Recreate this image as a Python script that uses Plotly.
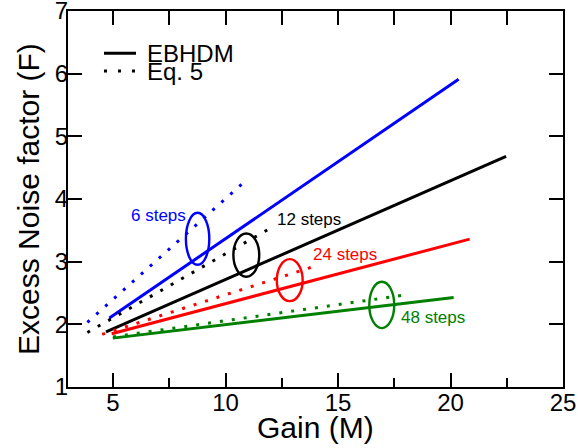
import plotly.graph_objects as go

# ---- data ----
series_names = ["6 steps", "12 steps", "24 steps", "48 steps"]
series_colors = ["#0000ff", "#000000", "#ff0000", "#008000"]

# EBHDM (solid lines): gain endpoints and excess noise factor endpoints
ebhdm_gain = [[4.84, 20.36], [4.69, 22.47], [4.94, 20.85], [4.99, 20.14]]
ebhdm_F = [[2.10, 5.91], [1.88, 4.68], [1.85, 3.36], [1.78, 2.43]]

# Eq. 5 (dotted lines)
eq5_gain = [[3.86, 10.79], [3.86, 11.93], [4.52, 13.90], [5.00, 18.20]]
eq5_F = [[2.03, 4.26], [1.87, 3.52], [1.84, 2.92], [1.80, 2.48]]

# ellipses marking each pair (data coordinates: gain range, F range)
ellipse_gain = [[8.24, 9.28], [10.35, 11.50], [12.28, 13.43], [16.39, 17.50]]
ellipse_F = [[2.95, 3.78], [2.76, 3.45], [2.37, 3.04], [1.94, 2.68]]

# label positions (data coordinates)
label_gain = [7.04, 13.73, 15.31, 19.22]
label_F = [3.74, 3.68, 3.12, 2.11]

x_range = [3, 25]
y_range = [1, 7]

FONT = "Liberation Sans, Arial, Helvetica, sans-serif"

fig = go.Figure()

for i, name in enumerate(series_names):
    c = series_colors[i]
    fig.add_trace(go.Scatter(
        x=eq5_gain[i], y=eq5_F[i], mode="lines",
        line=dict(color=c, width=3, dash="3px,9px"),
        showlegend=False, hoverinfo="skip"))
    fig.add_trace(go.Scatter(
        x=ebhdm_gain[i], y=ebhdm_F[i], mode="lines",
        line=dict(color=c, width=3),
        showlegend=False, hoverinfo="skip"))
    fig.add_shape(type="circle", xref="x", yref="y",
                  x0=ellipse_gain[i][0], x1=ellipse_gain[i][1],
                  y0=ellipse_F[i][0], y1=ellipse_F[i][1],
                  line=dict(color=c, width=2.4))
    fig.add_annotation(x=label_gain[i], y=label_F[i], text=name,
                       showarrow=False, xref="x", yref="y",
                       font=dict(family=FONT, size=17, color=c))

# manual legend (paper coordinates)
fig.add_shape(type="line", xref="paper", yref="paper",
              x0=0.0727, x1=0.1374, y0=0.8875, y1=0.8875,
              line=dict(color="black", width=3))
fig.add_shape(type="line", xref="paper", yref="paper",
              x0=0.0727, x1=0.1374, y0=0.8404, y1=0.8404,
              line=dict(color="black", width=3, dash="3px,11px"))
fig.add_annotation(x=0.1556, y=0.8875, xref="paper", yref="paper",
                   text="EBHDM", showarrow=False, xanchor="left", yanchor="middle",
                   font=dict(family=FONT, size=24, color="black"))
fig.add_annotation(x=0.1556, y=0.8404, xref="paper", yref="paper",
                   text="Eq. 5", showarrow=False, xanchor="left", yanchor="middle",
                   font=dict(family=FONT, size=24, color="black"))

# axis titles as annotations (to keep the plot area fixed)
fig.add_annotation(x=0.5, y=-0.107, xref="paper", yref="paper",
                   text="Gain (M)", showarrow=False, xanchor="center", yanchor="middle",
                   font=dict(family=FONT, size=30, color="black"))
fig.add_annotation(x=-0.081, y=0.5, xref="paper", yref="paper", textangle=-90,
                   text="Excess Noise factor (F)", showarrow=False,
                   xanchor="center", yanchor="middle",
                   font=dict(family=FONT, size=30, color="black"))

fig.update_layout(
    width=578, height=448,
    margin=dict(l=68, r=15, t=11, b=61, autoexpand=False),
    paper_bgcolor="white", plot_bgcolor="white",
    font=dict(family=FONT, color="black"),
    showlegend=False,
    xaxis=dict(range=x_range, dtick=5, tick0=0, ticks="inside", ticklen=14,
               tickwidth=2, tickcolor="black", automargin=False,
               ticklabeloverflow="allow", ticklabelstandoff=-7,
               minor=dict(dtick=2.5, tick0=0, ticks="inside", ticklen=9,
                          tickwidth=2, tickcolor="black"),
               showline=True, linecolor="black", linewidth=2,
               showgrid=False, zeroline=False,
               tickfont=dict(size=24, family=FONT)),
    xaxis2=dict(range=x_range, overlaying="x", anchor="y", side="top",
                dtick=2.5, tick0=0, ticks="inside", ticklen=14, tickwidth=2,
                tickcolor="black", showticklabels=False, showline=True,
                automargin=False,
                linecolor="black", linewidth=2, showgrid=False, zeroline=False),
    yaxis=dict(range=y_range, dtick=1, ticks="inside", ticklen=14,
               tickwidth=2, tickcolor="black", mirror="ticks", automargin=False,
               ticklabeloverflow="allow", ticklabelstandoff=-7,
               showline=True, linecolor="black", linewidth=2,
               showgrid=False, zeroline=False,
               tickfont=dict(size=24, family=FONT)),
)

# invisible trace to ensure top axis is drawn
fig.add_trace(go.Scatter(x=[x_range[0]], y=[y_range[0]], xaxis="x2", mode="markers",
                         marker=dict(opacity=0), showlegend=False, hoverinfo="skip"))

# remove the default 8px page margin so the figure fills the window exactly
fig.write_html("out.html",
               config={"displayModeBar": False, "staticPlot": True},
               post_script="document.body.style.margin='0';document.body.style.overflow='hidden';")
